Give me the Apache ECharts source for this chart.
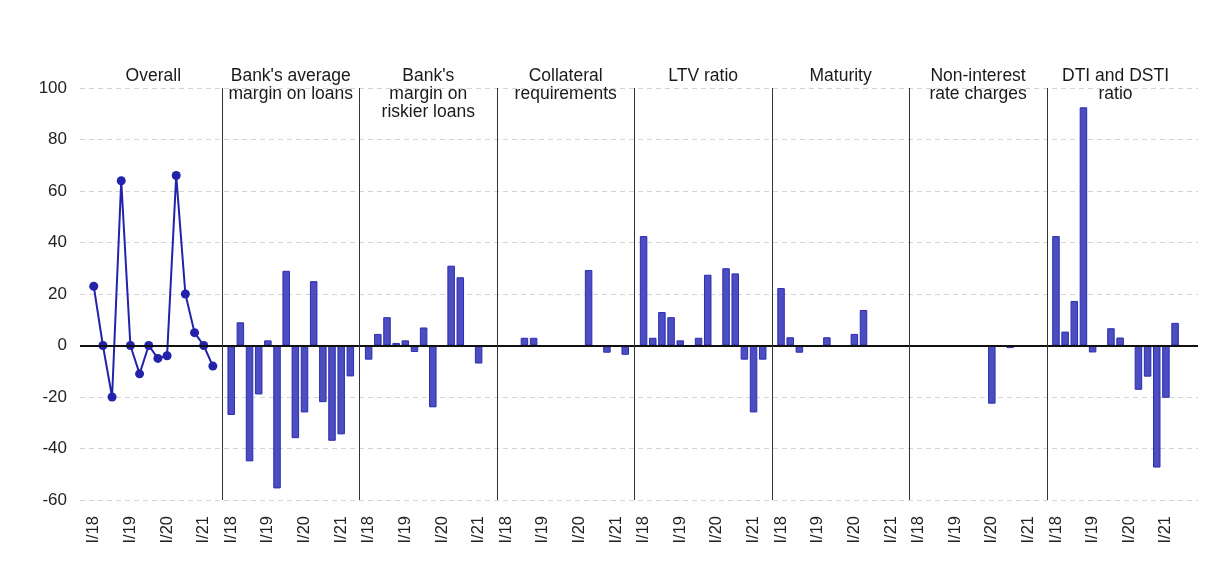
<!DOCTYPE html>
<html>
<head>
<meta charset="utf-8">
<script src="https://cdn.jsdelivr.net/npm/echarts@6/dist/echarts.min.js"></script>
<style>
html,body{margin:0;padding:0;background:#fff;}
#chart{width:1211px;height:563px;}
</style>
</head>
<body>
<div id="chart"></div>
<script>
// ---- Data ----
const quarters = ['I/18','II/18','III/18','IV/18','I/19','II/19','III/19','IV/19','I/20','II/20','III/20','IV/20','I/21','II/21'];
const panelTitles = ['Overall', "Bank's average\nmargin on loans", "Bank's\nmargin on\nriskier loans", 'Collateral\nrequirements', 'LTV ratio', 'Maturity', 'Non-interest\nrate charges', 'DTI and DSTI\nratio'];
const overall = [23, 0, -20, 64, 0, -11, 0, -5, -4, 66, 20, 5, 0, -8];
const avgMargin = [-27, 9, -45, -19, 2, -55.5, 29, -36, -26, 25, -22, -37, -34.5, -12];
const riskierMargin = [-5.5, 4.5, 11, 1, 2, -2.5, 7, -24, 0, 31, 26.5, 0, -7, 0];
const collateral = [0, 0, 3, 3, 0, 0, 0, 0, 0, 29.3, 0, -2.8, 0, -3.6];
const ltvRatio = [42.5, 3, 13, 11, 2, 0, 3, 27.5, 0, 30, 28, -5.5, -26, -5.5];
const maturity = [22.3, 3.2, -2.8, 0, 0, 3.2, 0, 0, 4.5, 13.8, 0, 0, 0, 0];
const nonInterest = [0, 0, 0, 0, 0, 0, 0, 0, -22.6, 0, -1, 0, 0, 0];
const dtiDsti = [42.5, 5.4, 17.3, 92.5, -2.7, 0, 6.7, 3.1, 0, -17.2, -12.1, -47.4, -20.3, 8.8];
const yTicks = {min: -60, max: 100, step: 20};

// ---- Build combined category layout ----
const barPanels = [avgMargin, riskierMargin, collateral, ltvRatio, maturity, nonInterest, dtiDsti];
const nPanels = 8, perPanel = quarters.length + 1;
const nCats = nPanels * perPanel + 2;
const cats = [], xLabels = [];
for (let i = 0; i < nCats; i++) { cats.push(String(i)); xLabels.push(''); }
const lineData = new Array(nCats).fill(null);
const barData = new Array(nCats).fill(null);
for (let p = 0; p < nPanels; p++) {
  for (let q = 0; q < quarters.length; q++) {
    const c = p * perPanel + 1 + q;
    xLabels[c] = quarters[q].startsWith('I/') ? quarters[q] : '';
    if (p === 0) lineData[c] = overall[q];
    else barData[c] = barPanels[p - 1][q];
  }
}
const separators = [];
for (let p = 1; p < nPanels; p++) separators.push({xAxis: p * perPanel});

const chart = echarts.init(document.getElementById('chart'), null, {renderer: 'canvas'});
const FONT = "'Liberation Sans', Arial, sans-serif";
chart.setOption({
  backgroundColor: '#ffffff',
  animation: false,
  grid: {left: 80, right: 13, top: 88, bottom: 63, containLabel: false},
  xAxis: {
    type: 'category',
    data: cats,
    boundaryGap: true,
    axisLine: {show: false},
    axisTick: {show: false},
    splitLine: {show: false},
    axisLabel: {
      interval: 0, rotate: 90, margin: 16,
      fontSize: 16.5, color: '#222', fontFamily: FONT,
      formatter: (v, i) => xLabels[i]
    }
  },
  yAxis: {
    type: 'value', min: yTicks.min, max: yTicks.max, interval: yTicks.step,
    axisLine: {show: false}, axisTick: {show: false},
    axisLabel: {fontSize: 17, color: '#222', margin: 13, fontFamily: FONT},
    splitLine: {show: true, lineStyle: {color: '#d4d4d4', type: [5, 4], width: 1}}
  },
  series: [
    {
      type: 'bar', data: barData, barWidth: 7.5, z: 2,
      itemStyle: {color: '#4b4dc0', borderColor: '#2b2db0', borderWidth: 1}
    },
    {
      type: 'line', data: lineData, z: 3, connectNulls: false,
      symbol: 'circle', symbolSize: 9, showSymbol: true,
      lineStyle: {color: '#2222aa', width: 2},
      itemStyle: {color: '#2222aa'}
    },
    {
      type: 'line', data: [], z: 10,
      markLine: {
        silent: true, symbol: ['none', 'none'], label: {show: false},
        animation: false,
        data: [
          {yAxis: 0, lineStyle: {color: '#111', width: 2, type: 'solid'}},
          ...separators.map(s => Object.assign({}, s, {lineStyle: {color: '#333', width: 1, type: 'solid'}}))
        ]
      }
    }
  ]
});

// Panel titles centered over each panel
const elems = panelTitles.map((t, p) => {
  const a = chart.convertToPixel({xAxisIndex: 0}, p * perPanel + 7);
  const b = chart.convertToPixel({xAxisIndex: 0}, p * perPanel + 8);
  return {
    type: 'text', x: (a + b) / 2, y: 67,
    style: {text: t, fontSize: 17.5, lineHeight: 18, fill: '#1a1a1a', fontFamily: FONT,
            textAlign: 'center', textVerticalAlign: 'top', align: 'center', verticalAlign: 'top'}
  };
});
chart.setOption({graphic: elems});
</script>
</body>
</html>
